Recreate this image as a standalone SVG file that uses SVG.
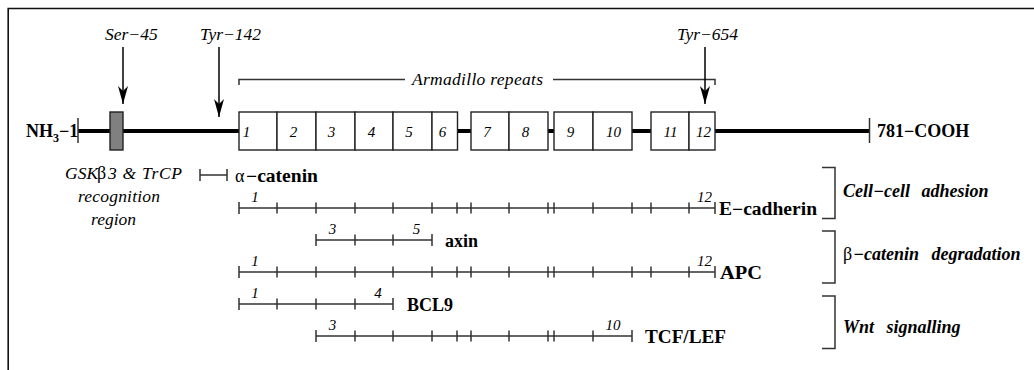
<svg xmlns="http://www.w3.org/2000/svg" width="1034" height="370" viewBox="0 0 1034 370" font-family="'Liberation Serif', serif">
<style>
text{font-family:'Liberation Serif','Times New Roman',serif;fill:#000}
.it{font-style:italic;font-size:17.5px}
.num{font-style:italic;font-size:15px;text-anchor:middle}
.bd{font-weight:bold;font-size:18px}
.bi{font-weight:bold;font-style:italic;font-size:18px}
.gr{font-size:18px}
.thin{stroke:#333;stroke-width:1.5;fill:none}
.box{fill:#fff;stroke:#222;stroke-width:1.4}
.tick{stroke:#333;stroke-width:1.5}
</style>
<defs>
<marker id="ah" viewBox="0 0 18 10" refX="18" refY="5" markerWidth="18" markerHeight="10" markerUnits="userSpaceOnUse" orient="auto">
<path d="M0,0 L18,5 L0,10 L5,5 Z" fill="#000"/>
</marker>
</defs>
<rect width="1034" height="370" fill="#fff"/>
<path d="M8.2,370 V8.5 H1034" fill="none" stroke="#111" stroke-width="1.6"/>

<g id="backbone">
<line x1="78" y1="131" x2="869" y2="131" stroke="#000" stroke-width="4"/>
<line x1="78" y1="118" x2="78" y2="143" class="tick"/>
<line x1="869.5" y1="118" x2="869.5" y2="143" class="tick"/>
<text class="bd" x="26" y="137">NH<tspan font-size="12px" dy="5">3</tspan><tspan dy="-5">−1</tspan></text>
<text class="bd" x="877" y="137">781−COOH</text>
</g>

<g id="gsk-region">
<rect x="110" y="112" width="13" height="38" fill="#808080" stroke="#222" stroke-width="1.4"/>
<text class="it" x="65" y="179">GSK</text>
<text class="gr" x="97" y="179">β</text>
<text class="it" x="108" y="179" textLength="74" lengthAdjust="spacing">3 &amp; TrCP</text>
<text class="it" x="78" y="202" textLength="82" lengthAdjust="spacing">recognition</text>
<text class="it" x="91" y="225">region</text>
</g>

<g id="repeats">
<g id="repeat-1"><rect class="box" x="239" y="112" width="38" height="38"/><text class="num" x="246.5" y="137">1</text></g>
<g id="repeat-2"><rect class="box" x="277" y="112" width="39" height="38"/><text class="num" x="293.5" y="137">2</text></g>
<g id="repeat-3"><rect class="box" x="316" y="112" width="39" height="38"/><text class="num" x="331.5" y="137">3</text></g>
<g id="repeat-4"><rect class="box" x="355" y="112" width="38" height="38"/><text class="num" x="371.5" y="137">4</text></g>
<g id="repeat-5"><rect class="box" x="393" y="112" width="39" height="38"/><text class="num" x="409" y="137">5</text></g>
<g id="repeat-6"><rect class="box" x="432" y="112" width="25.5" height="38"/><text class="num" x="442.5" y="137">6</text></g>
<g id="repeat-7"><rect class="box" x="471" y="112" width="38" height="38"/><text class="num" x="487" y="137">7</text></g>
<g id="repeat-8"><rect class="box" x="509" y="112" width="39" height="38"/><text class="num" x="525.5" y="137">8</text></g>
<g id="repeat-9"><rect class="box" x="554" y="112" width="39" height="38"/><text class="num" x="570.5" y="137">9</text></g>
<g id="repeat-10"><rect class="box" x="593" y="112" width="39" height="38"/><text class="num" x="613.5" y="137">10</text></g>
<g id="repeat-11"><rect class="box" x="651" y="112" width="38" height="38"/><text class="num" x="670.5" y="137">11</text></g>
<g id="repeat-12"><rect class="box" x="689" y="112" width="26" height="38"/><text class="num" x="703.5" y="137">12</text></g>
</g>

<g id="armadillo-label">
<path class="thin" d="M239,85 V79.5 H405 M553,79.5 H715 V85" stroke-width="1.2"/>
<text class="it" x="412" y="85" textLength="131" lengthAdjust="spacing">Armadillo repeats</text>
</g>

<g id="sites">
<text class="it" x="105" y="40">Ser−45</text>
<text class="it" x="200" y="40">Tyr−142</text>
<text class="it" x="677" y="40">Tyr−654</text>
</g>

<g id="connectors">
<line x1="123" y1="47" x2="123" y2="104" stroke="#000" stroke-width="1.5" marker-end="url(#ah)"/>
<line x1="219" y1="47" x2="219" y2="117" stroke="#000" stroke-width="1.5" marker-end="url(#ah)"/>
<line x1="705" y1="47" x2="705" y2="104" stroke="#000" stroke-width="1.5" marker-end="url(#ah)"/>
</g>

<g id="alpha-catenin">
<path class="thin" d="M200,175 H227 M200,169 V181 M227,169 V181"/>
<text class="gr" x="235" y="182">α</text>
<text class="bd" x="246" y="182" textLength="72" lengthAdjust="spacingAndGlyphs">−catenin</text>
</g>

<g id="e-cadherin">
<path class="thin" d="M239,208 H715 M239,202 V214 M715,202 V214 M277,202.5 V213.5 M316,202.5 V213.5 M355,202.5 V213.5 M393,202.5 V213.5 M432,202.5 V213.5 M457,202.5 V213.5 M471,202.5 V213.5 M509,202.5 V213.5 M548,202.5 V213.5 M554,202.5 V213.5 M593,202.5 V213.5 M632,202.5 V213.5 M651,202.5 V213.5 M689,202.5 V213.5"/>
<text class="num" x="255" y="202">1</text>
<text class="num" x="704.5" y="202">12</text>
<text class="bd" x="719" y="214.5" textLength="98" lengthAdjust="spacingAndGlyphs">E−cadherin</text>
</g>

<g id="axin">
<path class="thin" d="M316,240 H432 M316,234 V246 M432,234 V246 M355,234.5 V245.5 M393,234.5 V245.5"/>
<text class="num" x="332.5" y="234">3</text>
<text class="num" x="416.5" y="234">5</text>
<text class="bd" x="445" y="246.5">axin</text>
</g>

<g id="apc">
<path class="thin" d="M239,272 H715 M239,266 V278 M715,266 V278 M277,266.5 V277.5 M316,266.5 V277.5 M355,266.5 V277.5 M393,266.5 V277.5 M432,266.5 V277.5 M457,266.5 V277.5 M471,266.5 V277.5 M509,266.5 V277.5 M548,266.5 V277.5 M554,266.5 V277.5 M593,266.5 V277.5 M632,266.5 V277.5 M651,266.5 V277.5 M689,266.5 V277.5"/>
<text class="num" x="255" y="266">1</text>
<text class="num" x="704.5" y="266">12</text>
<text class="bd" x="720" y="278.5" textLength="42" lengthAdjust="spacingAndGlyphs">APC</text>
</g>

<g id="bcl9">
<path class="thin" d="M239,304 H393 M239,298 V310 M393,298 V310 M277,298.5 V309.5 M316,298.5 V309.5 M355,298.5 V309.5"/>
<text class="num" x="255" y="298">1</text>
<text class="num" x="378" y="298">4</text>
<text class="bd" x="407" y="310.5">BCL9</text>
</g>

<g id="tcf-lef">
<path class="thin" d="M316,336 H632 M316,330 V342 M632,330 V342 M355,330.5 V341.5 M393,330.5 V341.5 M432,330.5 V341.5 M457,330.5 V341.5 M471,330.5 V341.5 M509,330.5 V341.5 M548,330.5 V341.5 M554,330.5 V341.5 M593,330.5 V341.5"/>
<text class="num" x="332.5" y="330">3</text>
<text class="num" x="613" y="330">10</text>
<text class="bd" x="645" y="342.5" textLength="81" lengthAdjust="spacingAndGlyphs">TCF/LEF</text>
</g>

<g id="cell-adhesion">
<path class="thin" d="M822,167.5 H835 V218.5 H822"/>
<text class="bi" x="843" y="197" word-spacing="7">Cell−cell adhesion</text>
</g>

<g id="degradation">
<path class="thin" d="M822,231 H835 V283 H822"/>
<text class="gr" x="843" y="260">β</text>
<text class="bi" x="853" y="260" word-spacing="8">−catenin degradation</text>
</g>

<g id="wnt">
<path class="thin" d="M822,296 H835 V348.5 H822"/>
<text class="bi" x="843" y="333" word-spacing="8">Wnt signalling</text>
</g>
</svg>
